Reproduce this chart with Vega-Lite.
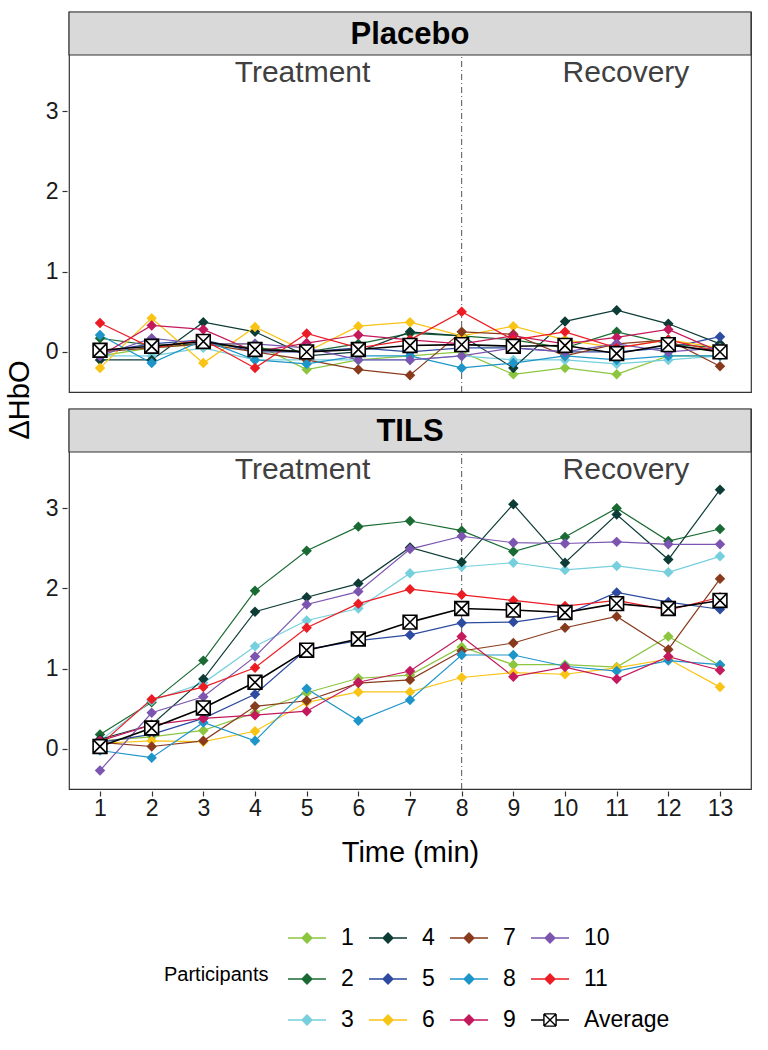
{
"$schema": "https://vega.github.io/schema/vega-lite/v6.json",
"padding": {"left": 5, "top": 10, "right": 16, "bottom": 5},
"config": {
 "font": "Liberation Sans, Arial, sans-serif",
 "view": {"stroke": "#333333", "strokeWidth": 1.2},
 "axis": {"grid": false, "domain": false, "tickColor": "#333333", "tickSize": 5, "tickWidth": 1.2, "labelColor": "#1a1a1a", "titleColor": "#000000", "labelFontSize": 23, "titleFontSize": 29, "titleFontWeight": "normal"}
},
"data": {"values": [
{"g":"Placebo","p":"1","t":1,"v":-0.05},{"g":"Placebo","p":"1","t":2,"v":0.05},{"g":"Placebo","p":"1","t":3,"v":0.1},{"g":"Placebo","p":"1","t":4,"v":0.1},{"g":"Placebo","p":"1","t":5,"v":-0.22},{"g":"Placebo","p":"1","t":6,"v":-0.1},{"g":"Placebo","p":"1","t":7,"v":-0.05},{"g":"Placebo","p":"1","t":8,"v":0},{"g":"Placebo","p":"1","t":9,"v":-0.28},{"g":"Placebo","p":"1","t":10,"v":-0.2},{"g":"Placebo","p":"1","t":11,"v":-0.28},{"g":"Placebo","p":"1","t":12,"v":-0.05},{"g":"Placebo","p":"1","t":13,"v":-0.05},
{"g":"Placebo","p":"2","t":1,"v":0.17},{"g":"Placebo","p":"2","t":2,"v":0.08},{"g":"Placebo","p":"2","t":3,"v":0.1},{"g":"Placebo","p":"2","t":4,"v":0.05},{"g":"Placebo","p":"2","t":5,"v":0},{"g":"Placebo","p":"2","t":6,"v":0.1},{"g":"Placebo","p":"2","t":7,"v":0.23},{"g":"Placebo","p":"2","t":8,"v":0.2},{"g":"Placebo","p":"2","t":9,"v":0.15},{"g":"Placebo","p":"2","t":10,"v":0.05},{"g":"Placebo","p":"2","t":11,"v":0.25},{"g":"Placebo","p":"2","t":12,"v":0.1},{"g":"Placebo","p":"2","t":13,"v":0.05},
{"g":"Placebo","p":"3","t":1,"v":-0.05},{"g":"Placebo","p":"3","t":2,"v":-0.05},{"g":"Placebo","p":"3","t":3,"v":0.05},{"g":"Placebo","p":"3","t":4,"v":-0.1},{"g":"Placebo","p":"3","t":5,"v":-0.1},{"g":"Placebo","p":"3","t":6,"v":-0.1},{"g":"Placebo","p":"3","t":7,"v":-0.1},{"g":"Placebo","p":"3","t":8,"v":-0.05},{"g":"Placebo","p":"3","t":9,"v":-0.1},{"g":"Placebo","p":"3","t":10,"v":-0.1},{"g":"Placebo","p":"3","t":11,"v":-0.15},{"g":"Placebo","p":"3","t":12,"v":-0.1},{"g":"Placebo","p":"3","t":13,"v":-0.05},
{"g":"Placebo","p":"4","t":1,"v":-0.1},{"g":"Placebo","p":"4","t":2,"v":-0.1},{"g":"Placebo","p":"4","t":3,"v":0.37},{"g":"Placebo","p":"4","t":4,"v":0.25},{"g":"Placebo","p":"4","t":5,"v":-0.05},{"g":"Placebo","p":"4","t":6,"v":0},{"g":"Placebo","p":"4","t":7,"v":0.25},{"g":"Placebo","p":"4","t":8,"v":0.2},{"g":"Placebo","p":"4","t":9,"v":-0.2},{"g":"Placebo","p":"4","t":10,"v":0.38},{"g":"Placebo","p":"4","t":11,"v":0.52},{"g":"Placebo","p":"4","t":12,"v":0.35},{"g":"Placebo","p":"4","t":13,"v":0.1},
{"g":"Placebo","p":"5","t":1,"v":0},{"g":"Placebo","p":"5","t":2,"v":0.1},{"g":"Placebo","p":"5","t":3,"v":0.15},{"g":"Placebo","p":"5","t":4,"v":0},{"g":"Placebo","p":"5","t":5,"v":0},{"g":"Placebo","p":"5","t":6,"v":0.05},{"g":"Placebo","p":"5","t":7,"v":0},{"g":"Placebo","p":"5","t":8,"v":0.05},{"g":"Placebo","p":"5","t":9,"v":0.05},{"g":"Placebo","p":"5","t":10,"v":0},{"g":"Placebo","p":"5","t":11,"v":0},{"g":"Placebo","p":"5","t":12,"v":0.05},{"g":"Placebo","p":"5","t":13,"v":0.19},
{"g":"Placebo","p":"6","t":1,"v":-0.2},{"g":"Placebo","p":"6","t":2,"v":0.42},{"g":"Placebo","p":"6","t":3,"v":-0.14},{"g":"Placebo","p":"6","t":4,"v":0.31},{"g":"Placebo","p":"6","t":5,"v":0},{"g":"Placebo","p":"6","t":6,"v":0.32},{"g":"Placebo","p":"6","t":7,"v":0.37},{"g":"Placebo","p":"6","t":8,"v":0.2},{"g":"Placebo","p":"6","t":9,"v":0.32},{"g":"Placebo","p":"6","t":10,"v":0.15},{"g":"Placebo","p":"6","t":11,"v":0.05},{"g":"Placebo","p":"6","t":12,"v":0.15},{"g":"Placebo","p":"6","t":13,"v":0.05},
{"g":"Placebo","p":"7","t":1,"v":0},{"g":"Placebo","p":"7","t":2,"v":0.05},{"g":"Placebo","p":"7","t":3,"v":0.1},{"g":"Placebo","p":"7","t":4,"v":0},{"g":"Placebo","p":"7","t":5,"v":-0.1},{"g":"Placebo","p":"7","t":6,"v":-0.22},{"g":"Placebo","p":"7","t":7,"v":-0.29},{"g":"Placebo","p":"7","t":8,"v":0.25},{"g":"Placebo","p":"7","t":9,"v":0.22},{"g":"Placebo","p":"7","t":10,"v":-0.05},{"g":"Placebo","p":"7","t":11,"v":0.1},{"g":"Placebo","p":"7","t":12,"v":0.15},{"g":"Placebo","p":"7","t":13,"v":-0.18},
{"g":"Placebo","p":"8","t":1,"v":0.21},{"g":"Placebo","p":"8","t":2,"v":-0.14},{"g":"Placebo","p":"8","t":3,"v":0.15},{"g":"Placebo","p":"8","t":4,"v":-0.1},{"g":"Placebo","p":"8","t":5,"v":-0.15},{"g":"Placebo","p":"8","t":6,"v":-0.05},{"g":"Placebo","p":"8","t":7,"v":-0.05},{"g":"Placebo","p":"8","t":8,"v":-0.2},{"g":"Placebo","p":"8","t":9,"v":-0.14},{"g":"Placebo","p":"8","t":10,"v":-0.05},{"g":"Placebo","p":"8","t":11,"v":-0.1},{"g":"Placebo","p":"8","t":12,"v":-0.05},{"g":"Placebo","p":"8","t":13,"v":-0.05},
{"g":"Placebo","p":"9","t":1,"v":-0.05},{"g":"Placebo","p":"9","t":2,"v":0.33},{"g":"Placebo","p":"9","t":3,"v":0.28},{"g":"Placebo","p":"9","t":4,"v":0},{"g":"Placebo","p":"9","t":5,"v":0.11},{"g":"Placebo","p":"9","t":6,"v":0.21},{"g":"Placebo","p":"9","t":7,"v":0.15},{"g":"Placebo","p":"9","t":8,"v":0.1},{"g":"Placebo","p":"9","t":9,"v":0.2},{"g":"Placebo","p":"9","t":10,"v":0.1},{"g":"Placebo","p":"9","t":11,"v":0.18},{"g":"Placebo","p":"9","t":12,"v":0.28},{"g":"Placebo","p":"9","t":13,"v":0},
{"g":"Placebo","p":"10","t":1,"v":-0.05},{"g":"Placebo","p":"10","t":2,"v":0.17},{"g":"Placebo","p":"10","t":3,"v":0.1},{"g":"Placebo","p":"10","t":4,"v":0.1},{"g":"Placebo","p":"10","t":5,"v":0.05},{"g":"Placebo","p":"10","t":6,"v":-0.1},{"g":"Placebo","p":"10","t":7,"v":-0.1},{"g":"Placebo","p":"10","t":8,"v":-0.05},{"g":"Placebo","p":"10","t":9,"v":0.05},{"g":"Placebo","p":"10","t":10,"v":0},{"g":"Placebo","p":"10","t":11,"v":0.1},{"g":"Placebo","p":"10","t":12,"v":0},{"g":"Placebo","p":"10","t":13,"v":0.05},
{"g":"Placebo","p":"11","t":1,"v":0.36},{"g":"Placebo","p":"11","t":2,"v":0.05},{"g":"Placebo","p":"11","t":3,"v":0.15},{"g":"Placebo","p":"11","t":4,"v":-0.2},{"g":"Placebo","p":"11","t":5,"v":0.23},{"g":"Placebo","p":"11","t":6,"v":0.05},{"g":"Placebo","p":"11","t":7,"v":0.15},{"g":"Placebo","p":"11","t":8,"v":0.5},{"g":"Placebo","p":"11","t":9,"v":0.15},{"g":"Placebo","p":"11","t":10,"v":0.25},{"g":"Placebo","p":"11","t":11,"v":0.05},{"g":"Placebo","p":"11","t":12,"v":0.15},{"g":"Placebo","p":"11","t":13,"v":0},
{"g":"Placebo","p":"Average","t":1,"v":0.02},{"g":"Placebo","p":"Average","t":2,"v":0.07},{"g":"Placebo","p":"Average","t":3,"v":0.13},{"g":"Placebo","p":"Average","t":4,"v":0.03},{"g":"Placebo","p":"Average","t":5,"v":0},{"g":"Placebo","p":"Average","t":6,"v":0.03},{"g":"Placebo","p":"Average","t":7,"v":0.08},{"g":"Placebo","p":"Average","t":8,"v":0.09},{"g":"Placebo","p":"Average","t":9,"v":0.07},{"g":"Placebo","p":"Average","t":10,"v":0.08},{"g":"Placebo","p":"Average","t":11,"v":-0.02},{"g":"Placebo","p":"Average","t":12,"v":0.09},{"g":"Placebo","p":"Average","t":13,"v":0},
{"g":"TILS","p":"1","t":1,"v":0.1},{"g":"TILS","p":"1","t":2,"v":0.15},{"g":"TILS","p":"1","t":3,"v":0.23},{"g":"TILS","p":"1","t":4,"v":0.45},{"g":"TILS","p":"1","t":5,"v":0.7},{"g":"TILS","p":"1","t":6,"v":0.88},{"g":"TILS","p":"1","t":7,"v":0.92},{"g":"TILS","p":"1","t":8,"v":1.27},{"g":"TILS","p":"1","t":9,"v":1.05},{"g":"TILS","p":"1","t":10,"v":1.05},{"g":"TILS","p":"1","t":11,"v":1.02},{"g":"TILS","p":"1","t":12,"v":1.4},{"g":"TILS","p":"1","t":13,"v":1.04},
{"g":"TILS","p":"2","t":1,"v":0.18},{"g":"TILS","p":"2","t":2,"v":0.58},{"g":"TILS","p":"2","t":3,"v":1.1},{"g":"TILS","p":"2","t":4,"v":1.97},{"g":"TILS","p":"2","t":5,"v":2.47},{"g":"TILS","p":"2","t":6,"v":2.77},{"g":"TILS","p":"2","t":7,"v":2.84},{"g":"TILS","p":"2","t":8,"v":2.72},{"g":"TILS","p":"2","t":9,"v":2.46},{"g":"TILS","p":"2","t":10,"v":2.64},{"g":"TILS","p":"2","t":11,"v":3.0},{"g":"TILS","p":"2","t":12,"v":2.59},{"g":"TILS","p":"2","t":13,"v":2.74},
{"g":"TILS","p":"3","t":1,"v":0.1},{"g":"TILS","p":"3","t":2,"v":0.6},{"g":"TILS","p":"3","t":3,"v":0.82},{"g":"TILS","p":"3","t":4,"v":1.28},{"g":"TILS","p":"3","t":5,"v":1.6},{"g":"TILS","p":"3","t":6,"v":1.75},{"g":"TILS","p":"3","t":7,"v":2.19},{"g":"TILS","p":"3","t":8,"v":2.27},{"g":"TILS","p":"3","t":9,"v":2.32},{"g":"TILS","p":"3","t":10,"v":2.23},{"g":"TILS","p":"3","t":11,"v":2.28},{"g":"TILS","p":"3","t":12,"v":2.2},{"g":"TILS","p":"3","t":13,"v":2.4},
{"g":"TILS","p":"4","t":1,"v":0.12},{"g":"TILS","p":"4","t":2,"v":0.3},{"g":"TILS","p":"4","t":3,"v":0.87},{"g":"TILS","p":"4","t":4,"v":1.71},{"g":"TILS","p":"4","t":5,"v":1.89},{"g":"TILS","p":"4","t":6,"v":2.06},{"g":"TILS","p":"4","t":7,"v":2.51},{"g":"TILS","p":"4","t":8,"v":2.33},{"g":"TILS","p":"4","t":9,"v":3.05},{"g":"TILS","p":"4","t":10,"v":2.32},{"g":"TILS","p":"4","t":11,"v":2.92},{"g":"TILS","p":"4","t":12,"v":2.36},{"g":"TILS","p":"4","t":13,"v":3.23},
{"g":"TILS","p":"5","t":1,"v":0.08},{"g":"TILS","p":"5","t":2,"v":0.18},{"g":"TILS","p":"5","t":3,"v":0.38},{"g":"TILS","p":"5","t":4,"v":0.68},{"g":"TILS","p":"5","t":5,"v":1.24},{"g":"TILS","p":"5","t":6,"v":1.35},{"g":"TILS","p":"5","t":7,"v":1.42},{"g":"TILS","p":"5","t":8,"v":1.57},{"g":"TILS","p":"5","t":9,"v":1.58},{"g":"TILS","p":"5","t":10,"v":1.67},{"g":"TILS","p":"5","t":11,"v":1.95},{"g":"TILS","p":"5","t":12,"v":1.83},{"g":"TILS","p":"5","t":13,"v":1.74},
{"g":"TILS","p":"6","t":1,"v":0.07},{"g":"TILS","p":"6","t":2,"v":0.1},{"g":"TILS","p":"6","t":3,"v":0.09},{"g":"TILS","p":"6","t":4,"v":0.22},{"g":"TILS","p":"6","t":5,"v":0.58},{"g":"TILS","p":"6","t":6,"v":0.71},{"g":"TILS","p":"6","t":7,"v":0.71},{"g":"TILS","p":"6","t":8,"v":0.89},{"g":"TILS","p":"6","t":9,"v":0.95},{"g":"TILS","p":"6","t":10,"v":0.93},{"g":"TILS","p":"6","t":11,"v":1.01},{"g":"TILS","p":"6","t":12,"v":1.12},{"g":"TILS","p":"6","t":13,"v":0.77},
{"g":"TILS","p":"7","t":1,"v":0.08},{"g":"TILS","p":"7","t":2,"v":0.03},{"g":"TILS","p":"7","t":3,"v":0.1},{"g":"TILS","p":"7","t":4,"v":0.53},{"g":"TILS","p":"7","t":5,"v":0.6},{"g":"TILS","p":"7","t":6,"v":0.82},{"g":"TILS","p":"7","t":7,"v":0.86},{"g":"TILS","p":"7","t":8,"v":1.22},{"g":"TILS","p":"7","t":9,"v":1.32},{"g":"TILS","p":"7","t":10,"v":1.51},{"g":"TILS","p":"7","t":11,"v":1.65},{"g":"TILS","p":"7","t":12,"v":1.24},{"g":"TILS","p":"7","t":13,"v":2.12},
{"g":"TILS","p":"8","t":1,"v":-0.02},{"g":"TILS","p":"8","t":2,"v":-0.11},{"g":"TILS","p":"8","t":3,"v":0.33},{"g":"TILS","p":"8","t":4,"v":0.1},{"g":"TILS","p":"8","t":5,"v":0.75},{"g":"TILS","p":"8","t":6,"v":0.35},{"g":"TILS","p":"8","t":7,"v":0.61},{"g":"TILS","p":"8","t":8,"v":1.17},{"g":"TILS","p":"8","t":9,"v":1.17},{"g":"TILS","p":"8","t":10,"v":1.03},{"g":"TILS","p":"8","t":11,"v":0.97},{"g":"TILS","p":"8","t":12,"v":1.1},{"g":"TILS","p":"8","t":13,"v":1.05},
{"g":"TILS","p":"9","t":1,"v":0.1},{"g":"TILS","p":"9","t":2,"v":0.3},{"g":"TILS","p":"9","t":3,"v":0.38},{"g":"TILS","p":"9","t":4,"v":0.42},{"g":"TILS","p":"9","t":5,"v":0.47},{"g":"TILS","p":"9","t":6,"v":0.83},{"g":"TILS","p":"9","t":7,"v":0.97},{"g":"TILS","p":"9","t":8,"v":1.4},{"g":"TILS","p":"9","t":9,"v":0.9},{"g":"TILS","p":"9","t":10,"v":1.02},{"g":"TILS","p":"9","t":11,"v":0.87},{"g":"TILS","p":"9","t":12,"v":1.15},{"g":"TILS","p":"9","t":13,"v":0.98},
{"g":"TILS","p":"10","t":1,"v":-0.27},{"g":"TILS","p":"10","t":2,"v":0.45},{"g":"TILS","p":"10","t":3,"v":0.65},{"g":"TILS","p":"10","t":4,"v":1.15},{"g":"TILS","p":"10","t":5,"v":1.8},{"g":"TILS","p":"10","t":6,"v":1.96},{"g":"TILS","p":"10","t":7,"v":2.49},{"g":"TILS","p":"10","t":8,"v":2.65},{"g":"TILS","p":"10","t":9,"v":2.57},{"g":"TILS","p":"10","t":10,"v":2.56},{"g":"TILS","p":"10","t":11,"v":2.58},{"g":"TILS","p":"10","t":12,"v":2.55},{"g":"TILS","p":"10","t":13,"v":2.55},
{"g":"TILS","p":"11","t":1,"v":0.05},{"g":"TILS","p":"11","t":2,"v":0.62},{"g":"TILS","p":"11","t":3,"v":0.77},{"g":"TILS","p":"11","t":4,"v":1.01},{"g":"TILS","p":"11","t":5,"v":1.51},{"g":"TILS","p":"11","t":6,"v":1.81},{"g":"TILS","p":"11","t":7,"v":1.99},{"g":"TILS","p":"11","t":8,"v":1.92},{"g":"TILS","p":"11","t":9,"v":1.85},{"g":"TILS","p":"11","t":10,"v":1.78},{"g":"TILS","p":"11","t":11,"v":1.85},{"g":"TILS","p":"11","t":12,"v":1.73},{"g":"TILS","p":"11","t":13,"v":1.89},
{"g":"TILS","p":"Average","t":1,"v":0.03},{"g":"TILS","p":"Average","t":2,"v":0.26},{"g":"TILS","p":"Average","t":3,"v":0.51},{"g":"TILS","p":"Average","t":4,"v":0.83},{"g":"TILS","p":"Average","t":5,"v":1.23},{"g":"TILS","p":"Average","t":6,"v":1.37},{"g":"TILS","p":"Average","t":7,"v":1.58},{"g":"TILS","p":"Average","t":8,"v":1.75},{"g":"TILS","p":"Average","t":9,"v":1.73},{"g":"TILS","p":"Average","t":10,"v":1.7},{"g":"TILS","p":"Average","t":11,"v":1.81},{"g":"TILS","p":"Average","t":12,"v":1.75},{"g":"TILS","p":"Average","t":13,"v":1.85}
]},
"facet": {"row": {"field": "g", "type": "nominal", "title": "ΔHbO", "sort": ["Placebo", "TILS"], "header": {"labels": false, "title": "ΔHbO", "labelPadding": 0, "titlePadding": 0, "titleFontSize": 29, "titleFontWeight": "normal", "titleColor": "#000000", "titleOrient": "left"}}},
"spacing": {"row": 13},
"spec": {
 "width": 682,
 "height": 380,
 "layer": [
  {"transform": [{"aggregate": [{"op": "count", "as": "n"}], "groupby": ["g"]}],
   "mark": {"type": "rect", "fill": "#D9D9D9", "stroke": "#333333", "strokeWidth": 1.2},
   "encoding": {
    "x": {"datum": 0.4, "type": "quantitative", "title": "Time (min)"},
    "x2": {"datum": 13.6},
    "y": {"datum": 3.7, "type": "quantitative", "title": null},
    "y2": {"datum": 4.236}}},
  {"transform": [{"aggregate": [{"op": "count", "as": "n"}], "groupby": ["g"]}],
   "mark": {"type": "text", "fontWeight": "bold", "fontSize": 31, "color": "#000000", "baseline": "middle", "align": "center", "dy": 1},
   "encoding": {
    "x": {"datum": 7, "type": "quantitative", "title": "Time (min)"},
    "y": {"datum": 3.968, "type": "quantitative", "title": null},
    "text": {"field": "g", "type": "nominal"}}},
  {"transform": [{"aggregate": [{"op": "count", "as": "n"}], "groupby": ["g"]}],
   "mark": {"type": "rule", "color": "#555555", "strokeWidth": 1, "strokeDash": [6, 3, 1, 3]},
   "encoding": {
    "x": {"datum": 8, "type": "quantitative", "title": "Time (min)"},
    "y": {"datum": -0.5, "type": "quantitative", "title": null},
    "y2": {"datum": 3.7}}},
  {"transform": [{"aggregate": [{"op": "count", "as": "n"}], "groupby": ["g"]}],
   "mark": {"type": "text", "text": "Treatment", "fontSize": 30, "color": "#404040", "baseline": "middle", "align": "center"},
   "encoding": {
    "x": {"datum": 4.92, "type": "quantitative", "title": "Time (min)"},
    "y": {"datum": 3.47, "type": "quantitative", "title": null}}},
  {"transform": [{"aggregate": [{"op": "count", "as": "n"}], "groupby": ["g"]}],
   "mark": {"type": "text", "text": "Recovery", "fontSize": 30, "color": "#404040", "baseline": "middle", "align": "center"},
   "encoding": {
    "x": {"datum": 11.18, "type": "quantitative", "title": "Time (min)"},
    "y": {"datum": 3.47, "type": "quantitative", "title": null}}},
  {"transform": [{"filter": "datum.p !== 'Average'"}],
   "mark": {"type": "line", "strokeWidth": 1.2},
   "encoding": {
    "x": {"field": "t", "type": "quantitative", "title": "Time (min)", "scale": {"domain": [0.4, 13.6], "nice": false, "zero": false}, "axis": {"values": [1,2,3,4,5,6,7,8,9,10,11,12,13], "format": "d", "labelPadding": 1, "titlePadding": 18}},
    "y": {"field": "v", "type": "quantitative", "title": null, "scale": {"domain": [-0.5, 4.236], "nice": false, "zero": false}, "axis": {"values": [0,1,2,3], "format": "d", "labelPadding": 4, "titlePadding": 13}},
    "color": {"field": "p", "type": "nominal",
     "scale": {"domain": ["1","4","7","10","2","5","8","11","3","6","9","Average"],
               "range": ["#8CC63F","#0D3B36","#8A3A1C","#7B55B0","#1A6B33","#2D4BA0","#1E95C9","#EC1C24","#76CFDD","#F9C416","#C4195C","#000000"]},
     "legend": {"title": "Participants", "orient": "none", "legendX": 95, "legendY": 906, "direction": "horizontal", "columns": 4,
       "titleOrient": "left", "titleFontSize": 20, "titleFontWeight": "normal", "titleColor": "#000000", "titlePadding": 18, "titleBaseline": "middle", "titleAnchor": "middle",
       "labelFontSize": 23, "labelColor": "#000000", "labelOffset": 14, "columnPadding": 12, "rowPadding": 9,
       "symbolSize": 1444, "symbolStrokeWidth": 1.4,
       "symbolType": "M-1,0L1,0M0,-0.26L0.26,0L0,0.26L-0.26,0Z",
       "encode": {"symbols": {"update": {
         "shape": {"signal": "datum.value === 'Average' ? 'M-1,0L-0.32,0M0.32,0L1,0M-0.32,-0.32L0.32,-0.32M0.32,-0.32L0.32,0.32M0.32,0.32L-0.32,0.32M-0.32,0.32L-0.32,-0.32M-0.32,-0.32L0.32,0.32M0.32,-0.32L-0.32,0.32' : 'M-1,0L1,0M0,-0.26L0.26,0L0,0.26L-0.26,0Z'"},
         "opacity": {"value": 1}}}}}}}},
  {"transform": [{"filter": "datum.p !== 'Average'"}],
   "mark": {"type": "point", "shape": "diamond", "size": 110, "filled": true, "opacity": 1},
   "encoding": {
    "x": {"field": "t", "type": "quantitative", "title": "Time (min)"},
    "y": {"field": "v", "type": "quantitative", "title": null},
    "color": {"field": "p", "type": "nominal"}}},
  {"transform": [{"filter": "datum.p === 'Average'"}],
   "mark": {"type": "line", "strokeWidth": 1.6},
   "encoding": {
    "x": {"field": "t", "type": "quantitative", "title": "Time (min)"},
    "y": {"field": "v", "type": "quantitative", "title": null},
    "color": {"field": "p", "type": "nominal"}}},
  {"transform": [{"filter": "datum.p === 'Average'"}],
   "mark": {"type": "point", "shape": "M-1,-1L1,-1L1,1L-1,1ZM-1,-1L1,1M1,-1L-1,1", "size": 190, "filled": true, "fill": "white", "stroke": "black", "strokeWidth": 1.6, "opacity": 1},
   "encoding": {
    "x": {"field": "t", "type": "quantitative", "title": "Time (min)"},
    "y": {"field": "v", "type": "quantitative", "title": null}}}
 ]
}
}
